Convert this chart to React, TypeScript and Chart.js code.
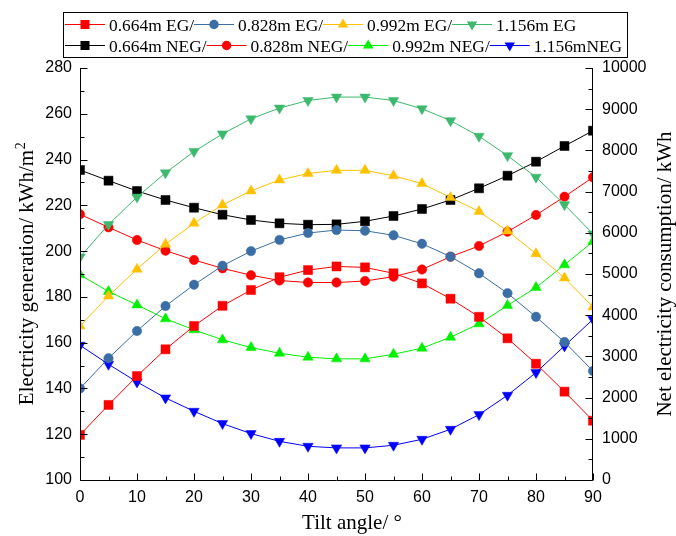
import React, { useEffect, useRef } from 'react';
import { Chart, registerables } from 'chart.js';

Chart.register(...registerables);

// ---------- data ----------
const tiltAngles = [0, 5, 10, 15, 20, 25, 30, 35, 40, 45, 50, 55, 60, 65, 70, 75, 80, 85, 90];

// Electricity generation (kWh/m2) – left axis
const eg0664 = [119.7, 132.8, 145.4, 157.1, 167.3, 176.1, 183.0, 188.6, 191.7, 193.3, 192.9, 190.3, 185.9, 179.2, 171.3, 161.9, 150.8, 138.6, 125.9];
const eg0828 = [140.0, 153.2, 165.1, 176.0, 185.3, 193.6, 200.0, 204.9, 207.9, 209.2, 208.9, 206.9, 203.2, 197.6, 190.3, 181.6, 171.3, 160.3, 147.6];
const eg0992 = [167.3, 180.4, 192.1, 203.0, 212.2, 220.2, 226.3, 231.1, 233.9, 235.3, 235.3, 232.9, 229.5, 223.4, 217.3, 208.8, 198.9, 188.3, 175.6];
const eg1156 = [197.4, 211.6, 223.6, 234.2, 243.5, 251.2, 257.8, 262.5, 265.8, 267.3, 267.3, 265.8, 262.2, 257.0, 250.2, 241.7, 232.3, 220.3, 207.5];

// Net electricity consumption (kWh) – right axis
const neg0664 = [7524, 7265, 7015, 6796, 6609, 6439, 6311, 6230, 6197, 6205, 6279, 6408, 6578, 6796, 7080, 7386, 7726, 8107, 8478];
const neg0828 = [6449, 6133, 5825, 5566, 5340, 5138, 4970, 4842, 4793, 4793, 4830, 4935, 5110, 5420, 5680, 6027, 6432, 6876, 7347];
const neg0992 = [4980, 4575, 4250, 3912, 3645, 3402, 3215, 3077, 2980, 2940, 2940, 3053, 3199, 3466, 3790, 4235, 4672, 5223, 5788];
const neg1156 = [3270, 2809, 2380, 1992, 1668, 1369, 1126, 939, 818, 779, 779, 843, 988, 1231, 1587, 2057, 2607, 3255, 3901];

const seriesLabels = [
  '0.664m EG/', '0.828m EG/', '0.992m EG/', '1.156m EG',
  '0.664m NEG/', '0.828m NEG/', '0.992m NEG/', '1.156mNEG',
];

// axis ranges / ticks
const xMin = 0, xMax = 90, xStep = 10;
const yLeftMin = 100, yLeftMax = 280, yLeftStep = 20;
const yRightMin = 0, yRightMax = 10000, yRightStep = 1000;

const xTitle = 'Tilt angle/ °';
const yLeftTitle = 'Electricity generation/ kWh/m';
const yLeftTitleSup = '2';
const yRightTitle = 'Net electricity consumption/ kWh';

// ---------- styles ----------
type Sty = { color: string; shape: 'rect' | 'circle' | 'triangle' | 'down'; axis: 'y' | 'y1' };
const styles: Sty[] = [
  { color: '#FF0000', shape: 'rect', axis: 'y' },
  { color: '#3A6EA5', shape: 'circle', axis: 'y' },
  { color: '#FFC000', shape: 'triangle', axis: 'y' },
  { color: '#3CB96C', shape: 'down', axis: 'y' },
  { color: '#000000', shape: 'rect', axis: 'y1' },
  { color: '#FF0000', shape: 'circle', axis: 'y1' },
  { color: '#00F000', shape: 'triangle', axis: 'y1' },
  { color: '#0000FF', shape: 'down', axis: 'y1' },
];
const seriesData = [eg0664, eg0828, eg0992, eg1156, neg0664, neg0828, neg0992, neg1156];

const radiusFor = (s: Sty['shape']) => (s === 'rect' ? 6.4 : s === 'circle' ? 4.7 : 6);

function drawMarker(ctx: CanvasRenderingContext2D, shape: Sty['shape'], x: number, y: number, color: string) {
  const r = radiusFor(shape);
  ctx.fillStyle = color;
  ctx.beginPath();
  if (shape === 'rect') {
    const h = r * Math.SQRT1_2;
    ctx.rect(x - h, y - h, 2 * h, 2 * h);
  } else if (shape === 'circle') {
    ctx.arc(x, y, r, 0, Math.PI * 2);
  } else {
    const dir = shape === 'triangle' ? 1 : -1;
    ctx.moveTo(x, y - dir * r);
    ctx.lineTo(x + r * 0.866, y + dir * r / 2);
    ctx.lineTo(x - r * 0.866, y + dir * r / 2);
    ctx.closePath();
  }
  ctx.fill();
}

const decorPlugin = {
  id: 'decor',
  afterDatasetsDraw(chart: any) {
    const { ctx, chartArea: a, scales } = chart;
    const sx = scales.x, sy = scales.y, sy1 = scales.y1;
    const L = Math.round(a.left) + 0.5;
    const R = Math.round(a.right) - 0.5;
    const B = Math.round(a.bottom) + 0.5;
    const T = Math.round(a.top);
    ctx.save();
    ctx.strokeStyle = '#000';
    ctx.lineWidth = 1;
    ctx.beginPath();
    ctx.moveTo(L, T); ctx.lineTo(L, B);
    ctx.moveTo(R, T); ctx.lineTo(R, B);
    ctx.moveTo(L, B); ctx.lineTo(R, B);
    // x ticks
    for (let v = xMin; v <= xMax + 1e-9; v += xStep / 2) {
      const px = Math.round(sx.getPixelForValue(v)) + 0.5;
      const len = Math.abs((v / xStep) - Math.round(v / xStep)) < 1e-6 ? 7 : 4;
      ctx.moveTo(px, B); ctx.lineTo(px, B - len);
    }
    // left ticks
    for (let v = yLeftMin; v <= yLeftMax + 1e-9; v += yLeftStep / 2) {
      const py = Math.round(sy.getPixelForValue(v)) + 0.5;
      const len = Math.abs(((v - yLeftMin) / yLeftStep) - Math.round((v - yLeftMin) / yLeftStep)) < 1e-6 ? 7 : 4;
      ctx.moveTo(L, py); ctx.lineTo(L + len, py);
    }
    // right ticks
    for (let v = yRightMin; v <= yRightMax + 1e-9; v += yRightStep / 2) {
      const py = Math.round(sy1.getPixelForValue(v)) + 0.5;
      const len = Math.abs((v / yRightStep) - Math.round(v / yRightStep)) < 1e-6 ? 7 : 4;
      ctx.moveTo(R, py); ctx.lineTo(R - len, py);
    }
    ctx.stroke();

    // titles
    ctx.fillStyle = '#000';
    ctx.font = '21px "Liberation Serif"';
    ctx.textBaseline = 'alphabetic';
    ctx.textAlign = 'center';
    ctx.fillText(xTitle, 352, 529);

    // left title with superscript
    const cy = (a.top + a.bottom) / 2;
    ctx.save();
    ctx.translate(33, cy);
    ctx.rotate(-Math.PI / 2);
    ctx.font = '21px "Liberation Serif"';
    const w1 = ctx.measureText(yLeftTitle).width;
    ctx.font = '14px "Liberation Serif"';
    const w2 = ctx.measureText(yLeftTitleSup).width;
    const start = -(w1 + w2) / 2;
    ctx.textAlign = 'left';
    ctx.font = '21px "Liberation Serif"';
    ctx.fillText(yLeftTitle, start, 0);
    ctx.font = '14px "Liberation Serif"';
    ctx.fillText(yLeftTitleSup, start + w1 + 0.5, -8);
    ctx.restore();

    ctx.save();
    ctx.translate(671, cy);
    ctx.rotate(-Math.PI / 2);
    ctx.textAlign = 'center';
    ctx.font = '21px "Liberation Serif"';
    ctx.fillText(yRightTitle, 0, 0);
    ctx.restore();

    // legend
    ctx.strokeStyle = '#000';
    ctx.lineWidth = 1;
    ctx.strokeRect(63.5, 12.5, 564, 45);
    ctx.font = '17.4px "Liberation Serif"';
    ctx.textAlign = 'left';
    ctx.textBaseline = 'alphabetic';
    const rows = [[0, 1, 2, 3], [4, 5, 6, 7]];
    const rowY = [24, 45];
    rows.forEach((row, ri) => {
      let x = 65;
      const y = rowY[ri];
      row.forEach((i) => {
        const st = styles[i];
        ctx.strokeStyle = st.color;
        ctx.beginPath();
        ctx.moveTo(x, y + 0.5); ctx.lineTo(x + 40, y + 0.5);
        ctx.stroke();
        drawMarker(ctx, st.shape, x + 20, y + 0.5, st.color);
        ctx.fillStyle = '#000';
        ctx.fillText(seriesLabels[i], x + 44, y + 6.5);
        x += 44 + ctx.measureText(seriesLabels[i]).width;
      });
    });
    ctx.restore();
  },
};

export default function App() {
  const ref = useRef<HTMLCanvasElement>(null);
  useEffect(() => {
    document.body.style.margin = '0';
    const datasets = seriesData.map((d, i) => {
      const st = styles[i];
      return {
        label: seriesLabels[i],
        data: tiltAngles.map((t, k) => ({ x: t, y: d[k] })),
        yAxisID: st.axis,
        borderColor: st.color,
        backgroundColor: st.color,
        borderWidth: 1,
        pointStyle: st.shape === 'rect' ? 'rect' : st.shape === 'circle' ? 'circle' : 'triangle',
        pointRotation: st.shape === 'down' ? 180 : 0,
        pointRadius: radiusFor(st.shape),
        pointHoverRadius: radiusFor(st.shape),
        pointBackgroundColor: st.color,
        pointBorderColor: st.color,
        pointBorderWidth: 0.5,
        tension: 0,
        fill: false,
      };
    });
    const tickFont = { family: '"Liberation Sans", Arial, sans-serif', size: 16 };
    const plain = (v: any) => String(v);
    const chart = new Chart(ref.current!, {
      type: 'line',
      data: { datasets: datasets as any },
      plugins: [decorPlugin],
      options: {
        responsive: false,
        animation: false,
        devicePixelRatio: 1,
        layout: { padding: { top: 68, left: 0, right: 0, bottom: 0 } },
        plugins: { legend: { display: false }, tooltip: { enabled: false } },
        scales: {
          x: {
            type: 'linear',
            min: xMin, max: xMax,
            ticks: { stepSize: xStep, font: tickFont, color: '#000', padding: 8, maxRotation: 0, callback: plain },
            grid: { display: false, drawTicks: false },
            border: { display: false },
            afterFit: (s: any) => { s.height = 56; },
          },
          y: {
            type: 'linear', position: 'left',
            min: yLeftMin, max: yLeftMax,
            ticks: { stepSize: yLeftStep, font: tickFont, color: '#000', padding: 8, callback: plain },
            grid: { display: false, drawTicks: false },
            border: { display: false },
            afterFit: (s: any) => { s.width = 80; },
          },
          y1: {
            type: 'linear', position: 'right',
            min: yRightMin, max: yRightMax,
            ticks: { stepSize: yRightStep, font: tickFont, color: '#000', padding: 9, callback: plain },
            grid: { display: false, drawTicks: false },
            border: { display: false },
            afterFit: (s: any) => { s.width = 83; },
          },
        },
      } as any,
    });
    return () => chart.destroy();
  }, []);
  return (
    <div style={{ width: 676, height: 536 }}>
      <canvas ref={ref} width={676} height={536} style={{ display: 'block' }} />
    </div>
  );
}
